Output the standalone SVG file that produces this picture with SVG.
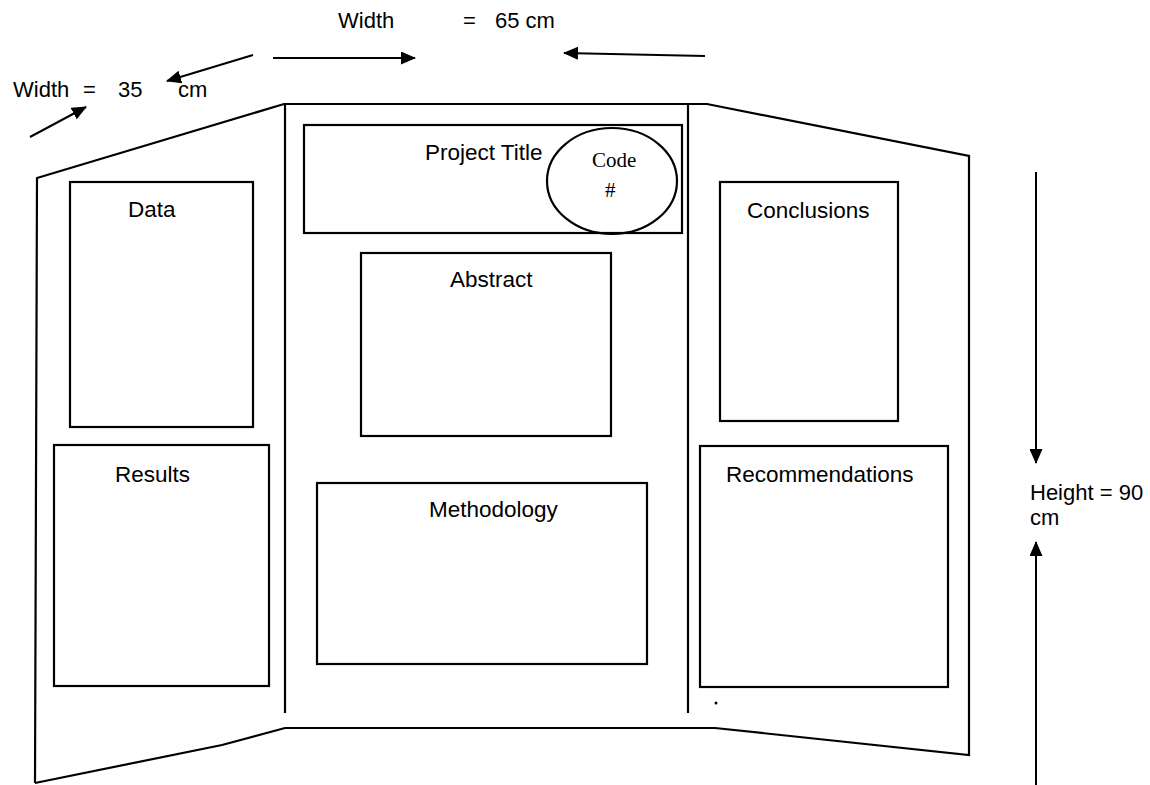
<svg xmlns="http://www.w3.org/2000/svg" width="1150" height="785" viewBox="0 0 1150 785">
  <defs>
    <marker id="ah" viewBox="0 0 15 13" refX="14" refY="6.5" markerWidth="15" markerHeight="13" markerUnits="userSpaceOnUse" orient="auto">
      <path d="M0,0 L15,6.5 L0,13 Z" fill="#000"/>
    </marker>
    <style>
      .board { fill: none; stroke: #000; stroke-width: 2.2; stroke-linejoin: miter; }
      .box { fill: none; stroke: #000; stroke-width: 2.2; }
      .lbl { font-family: "Liberation Sans", Arial, sans-serif; font-size: 22.5px; fill: #000; }
      .dim { font-family: "Liberation Sans", Arial, sans-serif; font-size: 22px; fill: #000; }
      .serif { font-family: "Liberation Serif", "Times New Roman", serif; font-size: 21px; fill: #000; }
      .arr { fill: none; stroke: #000; stroke-width: 2; marker-end: url(#ah); }
    </style>
  </defs>
  <rect width="1150" height="785" fill="#fff"/>

  <!-- board outline -->
  <g id="board">
    <path class="board" d="M35,783 L37,178 L284,104 L707,104 L969,156 L969,755 L715,728 L285,728 L222,745 L35,783"/>
    <line class="board" x1="285" y1="104" x2="285" y2="713"/>
    <line class="board" x1="688" y1="104" x2="688" y2="713"/>
    <circle cx="716" cy="703" r="1.5" fill="#000"/>
  </g>

  <g id="data">
    <rect class="box" x="70" y="182" width="183" height="245"/>
    <text class="lbl" x="128" y="217">Data</text>
  </g>
  <g id="results">
    <rect class="box" x="54" y="445" width="215" height="241"/>
    <text class="lbl" x="115" y="482">Results</text>
  </g>
  <g id="project-title">
    <rect class="box" x="304" y="125" width="378" height="108"/>
    <text class="lbl" x="425" y="160">Project Title</text>
  </g>
  <g id="code">
    <ellipse class="box" cx="612" cy="181" rx="65" ry="53"/>
    <text class="serif" x="592" y="167">Code</text>
    <text class="serif" x="605" y="197">#</text>
  </g>
  <g id="abstract">
    <rect class="box" x="361" y="253" width="250" height="183" stroke-width="2.8"/>
    <text class="lbl" x="450" y="287">Abstract</text>
  </g>
  <g id="methodology">
    <rect class="box" x="317" y="483" width="330" height="181"/>
    <text class="lbl" x="429" y="517">Methodology</text>
  </g>
  <g id="conclusions">
    <rect class="box" x="720" y="182" width="178" height="239"/>
    <text class="lbl" x="747" y="218">Conclusions</text>
  </g>
  <g id="recommendations">
    <rect class="box" x="700" y="446" width="248" height="241"/>
    <text class="lbl" x="726" y="482">Recommendations</text>
  </g>

  <!-- dimension labels -->
  <g id="width65">
    <text class="dim" x="338" y="28">Width</text>
    <text class="dim" x="463" y="28">=</text>
    <text class="dim" x="495" y="28">65 cm</text>
  </g>
  <g id="width35">
    <text class="dim" x="13" y="97">Width</text>
    <text class="dim" x="83" y="97">=</text>
    <text class="dim" x="118" y="97">35</text>
    <text class="dim" x="178" y="97">cm</text>
  </g>
  <g id="height90">
    <text class="dim" x="1030" y="500">Height = 90</text>
    <text class="dim" x="1030" y="525">cm</text>
  </g>

  <!-- connectors -->
  <g id="connectors">
    <line class="arr" x1="273" y1="58" x2="415" y2="58"/>
    <line class="arr" x1="705" y1="56" x2="564" y2="53"/>
    <line class="arr" x1="253" y1="55" x2="167" y2="81"/>
    <line class="arr" x1="30" y1="137" x2="86" y2="107"/>
    <line class="arr" x1="1036" y1="172" x2="1036" y2="463"/>
    <line class="arr" x1="1036" y1="785" x2="1036" y2="542"/>
  </g>
</svg>
